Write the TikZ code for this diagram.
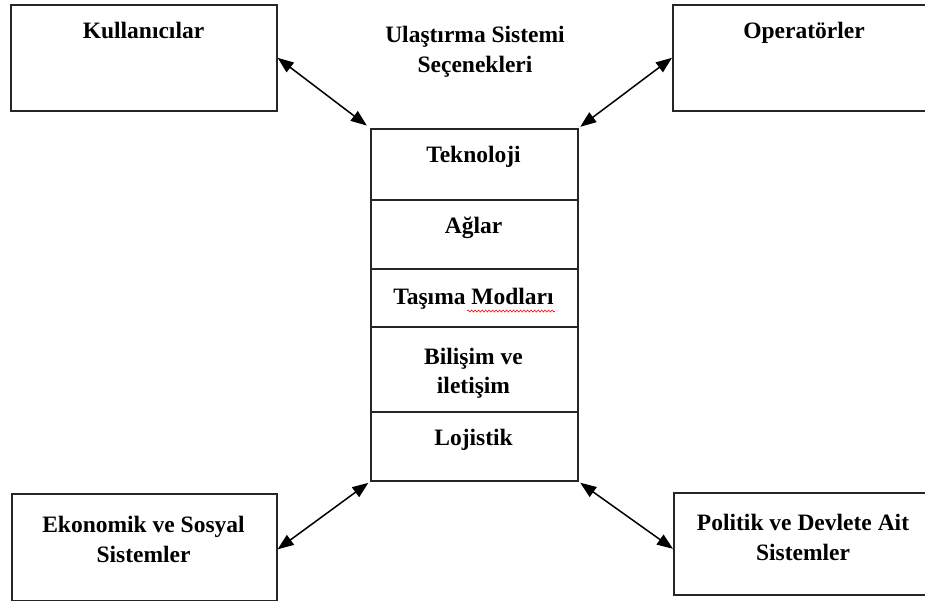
\documentclass[tikz,border=0pt]{standalone}
\usepackage{fontspec}
\setmainfont{Liberation Serif}
\usetikzlibrary{arrows.meta,decorations.pathmorphing}
\begin{document}
\begin{tikzpicture}[x=1pt,y=-1pt,
  box/.style={draw=black!85, line width=1.6pt, inner sep=0pt, anchor=north west},
  lbl/.style={inner sep=0pt, anchor=base, font=\fontsize{23.5}{29}\selectfont\bfseries},
  link/.style={{Triangle[length=16pt,width=12pt]}-{Triangle[length=16pt,width=12pt]}, line width=1.5pt},
  spell/.style={draw=red, line width=0.6pt, decorate, decoration={snake, amplitude=1pt, segment length=3.5pt}}
]
\useasboundingbox[fill=white] (0,0) rectangle (925,601);
% outer boxes
\node[box, minimum width=266pt, minimum height=106pt] (kul) at (10,4) {};
\node[box, minimum width=266pt, minimum height=106pt] (ope) at (672,4) {};
\node[box, minimum width=265pt, minimum height=107pt] (eko) at (11,493) {};
\node[box, minimum width=266pt, minimum height=102pt] (pol) at (673,492) {};
% central stack
\node[box, minimum width=207pt, minimum height=71pt] (tek) at (370,128) {};
\node[box, minimum width=207pt, minimum height=69pt] (agl) at (370,199) {};
\node[box, minimum width=207pt, minimum height=58pt] (tas) at (370,268) {};
\node[box, minimum width=207pt, minimum height=85pt] (bil) at (370,326) {};
\node[box, minimum width=207pt, minimum height=69pt] (loj) at (370,411) {};
% texts
\node[lbl] (t1) at (475,43) {Ulaştırma Sistemi};
\node[lbl] (t2) at (475,73) {Seçenekleri};
\node[lbl] (kult) at (143.5,39) {Kullanıcılar};
\node[lbl] (opet) at (804,39) {Operatörler};
\node[lbl] (tekt) at (473.5,163) {Teknoloji};
\node[lbl] (aglt) at (473.5,234) {Ağlar};
\node[lbl] (tast) at (473.5,305) {Taşıma Modları};
\node[lbl] (bilt1) at (473.5,364) {Bilişim ve};
\node[lbl] (bilt2) at (473.5,393) {iletişim};
\node[lbl] (lojt) at (473.5,445) {Lojistik};
\node[lbl] (ekot1) at (143.5,532) {Ekonomik ve Sosyal};
\node[lbl] (ekot2) at (143.5,562) {Sistemler};
\node[lbl] (polt1) at (803,530) {Politik ve Devlete Ait};
\node[lbl] (polt2) at (803,560) {Sistemler};
% spelling underline
\draw[spell] (467,311) -- (555,311);
% connectors
\draw[link, shorten >=4pt] (kul.east) -- (tek.north west);
\draw[link, shorten >=2pt] (ope.west) -- (tek.north east);
\draw[link, shorten >=2pt] ([yshift=-2pt]eko.east) -- (loj.south west);
\draw[link, shorten >=2pt] ([yshift=-5pt]pol.west) -- (loj.south east);
\end{tikzpicture}
\end{document}
